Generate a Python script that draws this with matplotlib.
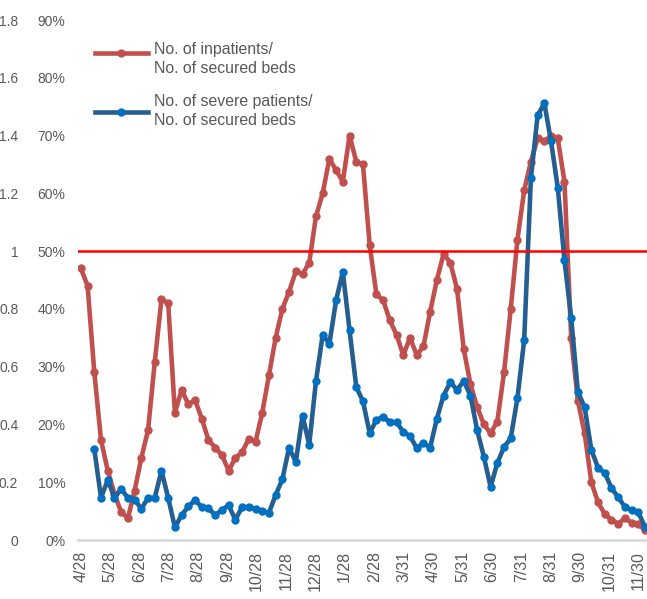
import pandas as pd
import matplotlib
matplotlib.use('Agg')
import matplotlib.pyplot as plt
from matplotlib.ticker import PercentFormatter
from matplotlib.legend_handler import HandlerLine2D

# Weekly observations starting 2020-04-28
weeks = pd.date_range('2020-04-28', periods=85, freq='7D')

# No. of inpatients / No. of secured beds (%)
inpatient_pct = [47, 44, 29, 17.3, 12, 8, 4.8, 3.8, 8.5, 14.2,
                 19, 30.8, 41.7, 41, 22, 26, 23.5, 24.2, 21, 17.3,
                 16, 14.7, 12, 14.2, 15.2, 17.5, 17, 22, 28.5, 35,
                 40, 43, 46.5, 46, 48, 56, 60, 66, 64, 62,
                 70, 65.5, 65, 51, 42.5, 41.5, 38, 35.5, 32, 35,
                 32, 33.5, 39.5, 45, 49.5, 48, 43.5, 33, 27, 23,
                 20, 18.5, 20.5, 29, 40, 52, 60.5, 65.5, 69.5, 69,
                 70, 69.5, 62, 35, 24, 18.5, 10, 6.5, 4.5, 3.5,
                 2.8, 3.8, 3, 2.7, 1.7]

# No. of severe patients / No. of secured beds (%)
severe_pct = [None, None, 15.7, 7.3, 10.4, 7.3, 8.8, 7.3, 7, 5.4,
              7.3, 7.3, 12, 7.3, 2.2, 4.3, 5.8, 6.9, 5.7, 5.5,
              4.3, 5.2, 6, 3.5, 5.7, 5.7, 5.4, 5, 4.7, 7.8,
              10.5, 16, 13.5, 21.5, 16.5, 27.5, 35.5, 34, 41.5, 46.4,
              36.3, 26.5, 24, 18.5, 20.8, 21.3, 20.4, 20.4, 18.7, 18,
              15.9, 16.8, 16, 21, 25, 27.3, 26, 27.5, 25, 19,
              14.4, 9.2, 13.3, 16.1, 17.6, 24.6, 34.6, 62.6, 73.5, 75.6,
              69, 61, 48.4, 38.4, 25.6, 23, 15.6, 12.5, 11.6, 9,
              7.4, 5.7, 5.2, 4.8, 2.2]

tick_dates = ['2020-04-28', '2020-05-28', '2020-06-28', '2020-07-28', '2020-08-28',
              '2020-09-28', '2020-10-28', '2020-11-28', '2020-12-28', '2021-01-28',
              '2021-02-28', '2021-03-31', '2021-04-30', '2021-05-31', '2021-06-30',
              '2021-07-31', '2021-08-31', '2021-09-30', '2021-10-31', '2021-11-30']
tick_labels = ['4/28', '5/28', '6/28', '7/28', '8/28', '9/28', '10/28', '11/28', '12/28',
               '1/28', '2/28', '3/31', '4/30', '5/31', '6/30', '7/31', '8/31', '9/30',
               '10/31', '11/30']

ratio_ticks = [0, 0.2, 0.4, 0.6, 0.8, 1, 1.2, 1.4, 1.6, 1.8]
ratio_labels = ['0', '0.2', '0.4', '0.6', '0.8', '1', '1.2', '1.4', '1.6', '1.8']

threshold_pct = 50

plt.rcParams['font.family'] = ['Liberation Sans', 'DejaVu Sans']
gray = '#595959'


# legend handle that sits next to the first line of a two-line label
class RaisedLine(HandlerLine2D):
    def create_artists(self, legend, orig_handle, xdescent, ydescent, width, height, fontsize, trans):
        artists = super().create_artists(legend, orig_handle, xdescent, ydescent,
                                         width, height, fontsize, trans)
        for a in artists:
            a.set_ydata(a.get_ydata() + 4.5)
        return artists


fig = plt.figure(figsize=(6.47, 5.99), dpi=100)
ax = fig.add_axes([78 / 647, 59 / 599, 569 / 647, 520 / 599])

red_line, = ax.plot(weeks, inpatient_pct, color='#C0504D', linewidth=3.3, marker='o', markersize=5,
                    markerfacecolor='#C0504D', markeredgecolor='#C0504D',
                    label='No. of inpatients/\nNo. of secured beds', zorder=3)
ax.plot(weeks, severe_pct, color='#255E91', linewidth=3.3, marker='o', markersize=5,
        markerfacecolor='#0070C0', markeredgecolor='#0070C0',
        label='No. of severe patients/\nNo. of secured beds', zorder=4)
ax.axhline(threshold_pct, color='#FF0000', linewidth=1.8, zorder=5)

start = pd.Timestamp('2020-04-28')
ax.set_xlim(start - pd.Timedelta(days=3), start + pd.Timedelta(days=590))
ax.set_ylim(0, 90)

ax.set_xticks(pd.to_datetime(tick_dates))
ax.set_xticklabels(tick_labels, rotation=90, fontsize=11.5, color=gray)
ax.set_yticks(range(0, 91, 10))
ax.yaxis.set_major_formatter(PercentFormatter(100, decimals=0))
ax.tick_params(axis='y', length=0, pad=9, labelsize=10, labelcolor=gray)
ax.tick_params(axis='x', length=0, pad=8)

for side in ['top', 'right', 'left']:
    ax.spines[side].set_visible(False)
ax.spines['bottom'].set_color('#D9D9D9')
ax.spines['bottom'].set_linewidth(2)

# ratio scale on the far left (1 = 50%)
sec = ax.secondary_yaxis(-0.105, functions=(lambda p: p / 50, lambda r: r * 50))
sec.set_yticks(ratio_ticks, labels=ratio_labels)
sec.tick_params(length=0, pad=0, labelsize=10, labelcolor=gray)
for sp in sec.spines.values():
    sp.set_visible(False)

leg = ax.legend(loc='upper left', bbox_to_anchor=(0.03, 0.957), frameon=False,
                fontsize=11.4, handlelength=3.33, handletextpad=0.38,
                labelspacing=1.15, borderpad=0, borderaxespad=0, labelcolor=gray,
                handler_map={red_line: RaisedLine()})
for t in leg.get_texts():
    t.set_linespacing(1.32)

fig.savefig('out.png', dpi=100)
